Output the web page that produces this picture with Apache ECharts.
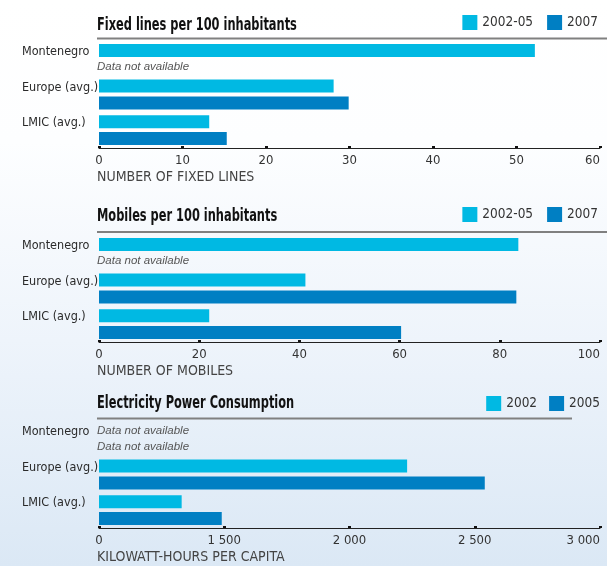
<!DOCTYPE html>
<html>
<head>
<meta charset="utf-8">
<title>Montenegro ICT</title>
<script src="https://cdn.jsdelivr.net/npm/echarts@6/dist/echarts.min.js"></script>
<style>
    html, body { margin: 0; padding: 0; }
    #chart {
        width: 607px; height: 566px;
        background: linear-gradient(to bottom, #ffffff 0%, #fdfeff 25%, #eef4fb 60%, #dbe8f5 100%);
    }
</style>
</head>
<body>
<div id="chart"></div>
<script>
// data
var categories = ['Montenegro', 'Europe (avg.)', 'LMIC (avg.)'];

var fixedNames = ['2002-05', '2007'];
var fixedEarly = [52.2, 28.1, 13.2];
var fixedLate = [null, 29.9, 15.3];
var fixedAxis = { min: 0, max: 60, interval: 10 };

var mobileNames = ['2002-05', '2007'];
var mobileEarly = [83.7, 41.2, 22.0];
var mobileLate = [null, 83.3, 60.3];
var mobileAxis = { min: 0, max: 100, interval: 20 };

var powerNames = ['2002', '2005'];
var powerEarly = [null, 2230, 1330];
var powerLate = [null, 2540, 1490];
// axis is broken in the original: first tick reads 0, then 1 500 .. 3 000
var powerAxis = { min: 1000, max: 3000, interval: 500 };

var titles = ['Fixed lines per 100 inhabitants', 'Mobiles per 100 inhabitants', 'Electricity Power Consumption'];
var axisNames = ['NUMBER OF FIXED LINES', 'NUMBER OF MOBILES', 'KILOWATT-HOURS PER CAPITA'];

var NARROW = "'DejaVu Sans Condensed', 'Liberation Sans Narrow', sans-serif";
var colors = ['#00b9e3', '#007fc3'];

var myChart = echarts.init(document.getElementById('chart'));

function toItems(arr, base) {
    return arr.map(function (v) {
        if (v == null) {
            // zero length bar at the axis start, only carrying the note
            return {
                value: base,
                label: {
                    show: true,
                    position: 'right',
                    distance: -2,
                    formatter: 'Data not available',
                    color: '#555',
                    fontStyle: 'italic',
                    fontFamily: "'Liberation Sans', sans-serif",
                    fontSize: 11.5
                }
            };
        }
        return v;
    });
}

function thousands(v) {
    if (v === powerAxis.min) return '0';
    return String(v).replace(/\B(?=(\d{3})+$)/g, ' ');
}

var tops = [41, 235, 421];
var titleTops = [17, 208, 395];
var legendTops = [15, 207, 396];
var lineYs = [38.5, 232, 418.5];
var lineEnds = [607, 607, 572];
var legendRight = [9, 9, 7];
var legendGap = [14, 14, 12];
var axes = [fixedAxis, mobileAxis, powerAxis];
var names = [fixedNames, mobileNames, powerNames];
var early = [fixedEarly, mobileEarly, powerEarly];
var late = [fixedLate, mobileLate, powerLate];

var grid = [], xAxis = [], yAxis = [], series = [], legend = [], graphic = [];

for (var i = 0; i < 3; i++) {
    grid.push({ left: 99, right: 7, top: tops[i], height: 107, containLabel: false });
    // titles: condensed bold, squeezed a little to match the narrow original face
    graphic.push({
        type: 'text',
        x: 97, y: titleTops[i],
        scaleX: 0.745,
        style: {
            text: titles[i],
            font: "bold 17px 'DejaVu Sans Condensed', sans-serif",
            fill: '#111',
            verticalAlign: 'top'
        }
    });
    graphic.push({
        type: 'line',
        shape: { x1: 97, y1: lineYs[i], x2: lineEnds[i], y2: lineYs[i] },
        style: { stroke: '#808080', lineWidth: 2 }
    });
    legend.push({
        data: names[i], right: legendRight[i], top: legendTops[i], padding: 0,
        itemWidth: 15, itemHeight: 15, itemGap: legendGap[i], icon: 'rect',
        selectedMode: false,
        textStyle: { fontFamily: NARROW, fontSize: 13.5, color: '#333' }
    });
    xAxis.push({
        type: 'value', gridIndex: i,
        min: axes[i].min, max: axes[i].max, interval: axes[i].interval,
        name: axisNames[i],
        nameLocation: 'start',
        nameGap: 2,
        nameTextStyle: {
            fontFamily: NARROW, fontSize: 14, color: '#444',
            align: 'left', verticalAlign: 'top', padding: [22, 0, 0, 0]
        },
        axisLine: { show: true, lineStyle: { color: '#222', width: 1 } },
        axisTick: { show: true, inside: true, length: 2, lineStyle: { color: '#111', width: 3 } },
        splitLine: { show: false },
        axisLabel: {
            margin: 6,
            fontFamily: NARROW, fontSize: 13, color: '#333',
            alignMaxLabel: 'right',
            formatter: i === 2 ? thousands : null
        }
    });
    yAxis.push({
        type: 'category', gridIndex: i, inverse: true,
        data: categories,
        axisLine: { show: false },
        axisTick: { show: false },
        axisLabel: {
            align: 'left', margin: 77,
            lineHeight: 14,
            // blank second line lifts the name up to the first bar
            formatter: function (v) { return v + '\n '; },
            fontFamily: NARROW, fontSize: 12.5, color: '#2a2a2a'
        }
    });
    [early[i], late[i]].forEach(function (arr, k) {
        series.push({
            name: names[i][k],
            type: 'bar',
            xAxisIndex: i, yAxisIndex: i,
            barWidth: 13,
            barGap: '30%',
            itemStyle: { color: colors[k] },
            silent: true,
            data: toItems(arr, axes[i].min)
        });
    });
}

option = {
    animation: false,
    color: colors,
    legend: legend,
    grid: grid,
    xAxis: xAxis,
    yAxis: yAxis,
    graphic: graphic,
    series: series
};
myChart.setOption(option);
</script>
</body>
</html>
